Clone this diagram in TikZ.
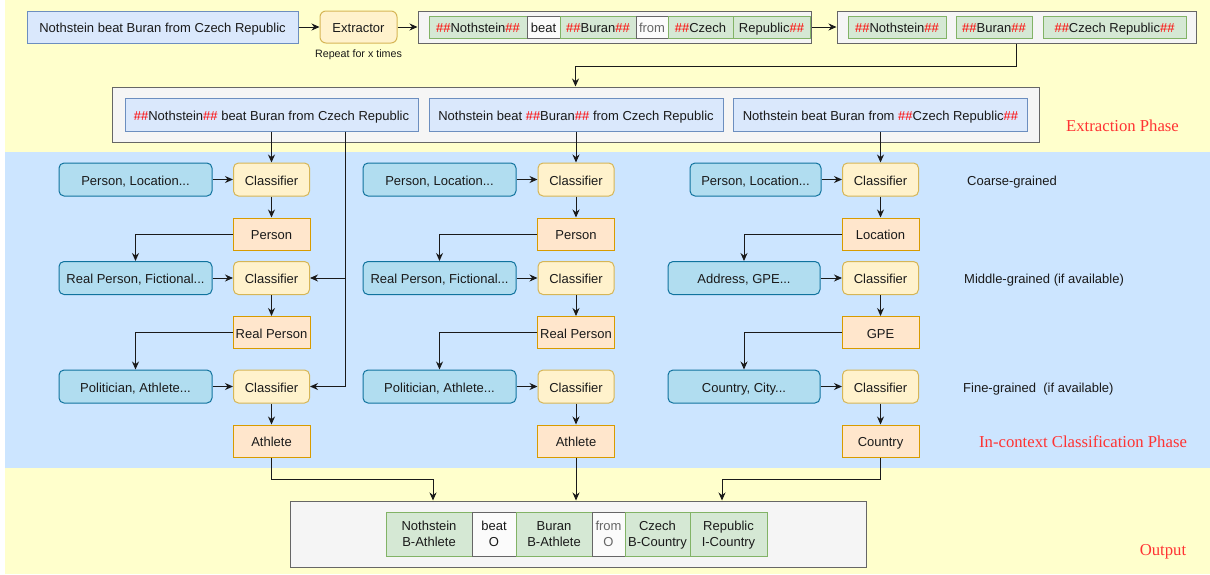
\documentclass[tikz,border=0pt]{standalone}
\usepackage{fontspec}
\setmainfont{Liberation Sans}
\newfontfamily\phasefont{Liberation Serif}
\usetikzlibrary{arrows.meta}

\definecolor{bgyellow}{HTML}{FFFFCC}
\definecolor{bgblue}{HTML}{CCE5FF}
\definecolor{sentfill}{HTML}{DAE8FC}
\definecolor{sentline}{HTML}{6C8EBF}
\definecolor{labfill}{HTML}{B1DDF0}
\definecolor{labline}{HTML}{10739E}
\definecolor{clsfill}{HTML}{FFF2CC}
\definecolor{clsline}{HTML}{D6B656}
\definecolor{resfill}{HTML}{FFE6CC}
\definecolor{resline}{HTML}{D79B00}
\definecolor{tokfill}{HTML}{D5E8D4}
\definecolor{tokline}{HTML}{82B366}
\definecolor{grayfill}{HTML}{F5F5F5}
\definecolor{grayline}{HTML}{666666}
\definecolor{hashred}{HTML}{FF0000}
\definecolor{phasered}{HTML}{FF3333}
\definecolor{linegray}{HTML}{1A1A1A}

\newcommand{\hh}{\textcolor{hashred}{\#\#}}

\begin{document}
\begin{tikzpicture}[x=1pt, y=-1pt,
    every node/.style={font=\fontsize{13}{16}\selectfont, inner sep=0pt, align=center, text=linegray,
        text height=13pt, text depth=2pt},
    free/.style={text height={}, text depth={}},
    box/.style={draw, line width=1pt, minimum height=32pt},
    sentbox/.style={box, fill=sentfill, draw=sentline},
    labelbox/.style={box, fill=labfill, draw=labline, rounded corners=5pt, minimum height=33pt},
    clsbox/.style={box, fill=clsfill, draw=clsline, rounded corners=5pt, minimum width=76pt, minimum height=33pt},
    resbox/.style={box, fill=resfill, draw=resline, minimum width=77pt},
    graybox/.style={box, fill=grayfill, draw=grayline},
    greentok/.style={box, fill=tokfill, draw=tokline, minimum height=22pt},
    whitetok/.style={box, fill=white!60!grayfill, draw=grayline, minimum height=22pt},
    outtok/.style={minimum height=44pt, text height=27.5pt, text depth=2.5pt},
    phase/.style={free, font=\phasefont\fontsize{16.7}{19}\selectfont, text=phasered},
    arr/.style={-{Stealth[length=8pt,width=7pt]}, line width=0.95pt, draw=linegray}]

    \useasboundingbox (0,0) rectangle (1210,574);

    % row heights
    \def\rowA{179.5}
    \def\resA{234}
    \def\rowB{278}
    \def\resB{332.5}
    \def\rowC{386.5}
    \def\resC{441}

    %% backgrounds
    \fill[bgyellow] (5,0) rectangle (1210,574);
    \fill[bgblue] (5,152) rectangle (1210,468);

    %% draw input and extractor
    \node[sentbox, minimum width=271pt] (inp) at (162.5,27) {Nothstein beat Buran from Czech Republic};
    \node[clsbox, rounded corners=6pt, minimum width=77pt, minimum height=32pt] (ext) at (358.5,27) {Extractor};
    \node[free, font=\fontsize{10.7}{12}\selectfont] (rep) at (358.5,55) {Repeat for x times};

    % draw marked tokens
    \node[graybox, minimum width=393pt] (tok) at (614.5,27) {};
    \node[greentok, minimum width=98pt] (tok1) at (478,27) {\hh Nothstein\hh};
    \node[whitetok, minimum width=33pt] (tok2) at (543.5,27) {beat};
    \node[greentok, minimum width=76pt] (tok3) at (598,27) {\hh Buran\hh};
    \node[whitetok, minimum width=32pt, text=grayline] (tok4) at (652,27) {from};
    \node[greentok, minimum width=65pt] (tok5) at (700.5,27) {\hh Czech};
    \node[greentok, minimum width=77pt] (tok6) at (771.5,27) {Republic\hh};

    % draw entities
    \node[graybox, minimum width=359pt] (ent) at (1016.5,27) {};
    \node[greentok, minimum width=98pt] (ent1) at (897,27) {\hh Nothstein\hh};
    \node[greentok, minimum width=76pt] (ent2) at (994,27) {\hh Buran\hh};
    \node[greentok, minimum width=143pt] (ent3) at (1114.5,27) {\hh Czech Republic\hh};

    \draw[arr] (inp) -- (ext);
    \draw[arr] (ext) -- (tok);
    \draw[arr] (tok) -- (ent);

    %% draw extracted sentences
    \node[graybox, minimum width=927pt, minimum height=55pt] (sen) at (575.5,114.5) {};
    \node[sentbox, minimum width=293pt, minimum height=33pt] (sen1) at (271.5,114.5) {\hh Nothstein\hh{} beat Buran from Czech Republic};
    \node[sentbox, minimum width=294pt, minimum height=33pt] (sen2) at (576,114.5) {Nothstein beat \hh Buran\hh{} from Czech Republic};
    \node[sentbox, minimum width=294pt, minimum height=33pt] (sen3) at (880.5,114.5) {Nothstein beat Buran from \hh Czech Republic\hh};

    \draw[arr] (ent.south) -- ++(0,23) -| (sen.north);

    %% draw first column
    \node[labelbox, minimum width=153pt] (lab11) at (135.5,\rowA) {Person, Location...};
    \node[clsbox] (cls11) at (271.5,\rowA) {Classifier};
    \node[resbox] (res11) at (271.5,\resA) {Person};
    \node[labelbox, minimum width=153pt] (lab12) at (135.5,\rowB) {Real Person, Fictional...};
    \node[clsbox] (cls12) at (271.5,\rowB) {Classifier};
    \node[resbox] (res12) at (271.5,\resB) {Real Person};
    \node[labelbox, minimum width=153pt] (lab13) at (135.5,\rowC) {Politician, Athlete...};
    \node[clsbox] (cls13) at (271.5,\rowC) {Classifier};
    \node[resbox] (res13) at (271.5,\resC) {Athlete};

    \draw[arr] (sen1.south) -- (cls11.north);
    \draw[arr] (lab11) -- (cls11);
    \draw[arr] (cls11) -- (res11);
    \draw[arr] (res11.west) -| (lab12.north);
    \draw[arr] (lab12) -- (cls12);
    \draw[arr] (cls12) -- (res12);
    \draw[arr] (res12.west) -| (lab13.north);
    \draw[arr] (lab13) -- (cls13);
    \draw[arr] (cls13) -- (res13);
    \draw[arr] ([xshift=73.5pt]sen1.south) |- (cls12.east);
    \draw[arr] ([xshift=73.5pt]sen1.south) |- (cls13.east);

    %% draw second column
    \node[labelbox, minimum width=153pt] (lab21) at (439.5,\rowA) {Person, Location...};
    \node[clsbox] (cls21) at (576,\rowA) {Classifier};
    \node[resbox] (res21) at (576,\resA) {Person};
    \node[labelbox, minimum width=153pt] (lab22) at (439.5,\rowB) {Real Person, Fictional...};
    \node[clsbox] (cls22) at (576,\rowB) {Classifier};
    \node[resbox] (res22) at (576,\resB) {Real Person};
    \node[labelbox, minimum width=153pt] (lab23) at (439.5,\rowC) {Politician, Athlete...};
    \node[clsbox] (cls23) at (576,\rowC) {Classifier};
    \node[resbox] (res23) at (576,\resC) {Athlete};

    \draw[arr] (sen2.south) -- (cls21.north);
    \draw[arr] (lab21) -- (cls21);
    \draw[arr] (cls21) -- (res21);
    \draw[arr] (res21.west) -| (lab22.north);
    \draw[arr] (lab22) -- (cls22);
    \draw[arr] (cls22) -- (res22);
    \draw[arr] (res22.west) -| (lab23.north);
    \draw[arr] (lab23) -- (cls23);
    \draw[arr] (cls23) -- (res23);

    %% draw third column
    \node[labelbox, minimum width=131pt] (lab31) at (755.5,\rowA) {Person, Location...};
    \node[clsbox] (cls31) at (880.5,\rowA) {Classifier};
    \node[resbox] (res31) at (880.5,\resA) {Location};
    \node[labelbox, minimum width=152pt] (lab32) at (744,\rowB) {Address, GPE...};
    \node[clsbox] (cls32) at (880.5,\rowB) {Classifier};
    \node[resbox] (res32) at (880.5,\resB) {GPE};
    \node[labelbox, minimum width=152pt] (lab33) at (744,\rowC) {Country, City...};
    \node[clsbox] (cls33) at (880.5,\rowC) {Classifier};
    \node[resbox] (res33) at (880.5,\resC) {Country};

    \draw[arr] (sen3.south) -- (cls31.north);
    \draw[arr] (lab31) -- (cls31);
    \draw[arr] (cls31) -- (res31);
    \draw[arr] (res31.west) -| (lab32.north);
    \draw[arr] (lab32) -- (cls32);
    \draw[arr] (cls32) -- (res32);
    \draw[arr] (res32.west) -| (lab33.north);
    \draw[arr] (lab33) -- (cls33);
    \draw[arr] (cls33) -- (res33);

    % granularity labels
    \node[anchor=west] (coarse) at (967,\rowA) {Coarse-grained};
    \node[anchor=west] (middle) at (964,\rowB) {Middle-grained (if available)};
    \node[anchor=west] (fine) at (963,\rowC) {Fine-grained\ \ (if available)};

    %% draw output
    \node[graybox, minimum width=576pt, minimum height=66pt] (out) at (578,534) {};
    \node[greentok, outtok, minimum width=86pt] (out1) at (429,534) {Nothstein\\B-Athlete};
    \node[whitetok, outtok, minimum width=44pt] (out2) at (494,534) {beat\\O};
    \node[greentok, outtok, minimum width=76pt] (out3) at (554,534) {Buran\\B-Athlete};
    \node[whitetok, outtok, minimum width=33pt, text=grayline] (out4) at (608.5,534) {from\\O};
    \node[greentok, outtok, minimum width=65pt] (out5) at (657.5,534) {Czech\\B-Country};
    \node[greentok, outtok, minimum width=77pt] (out6) at (728.5,534) {Republic\\I-Country};

    \draw[arr] (res13.south) -- ++(0,22) -| ([xshift=-145pt]out.north);
    \draw[arr] (res23.south) -- (res23.south |- out.north);
    \draw[arr] (res33.south) -- ++(0,22) -| ([xshift=144pt]out.north);

    % phase labels
    \node[phase] (phext) at (1122.5,126) {Extraction Phase};
    \node[phase] (phcls) at (1083,442) {In-context Classification Phase};
    \node[phase] (phout) at (1163,552) {Output};

\end{tikzpicture}
\end{document}
